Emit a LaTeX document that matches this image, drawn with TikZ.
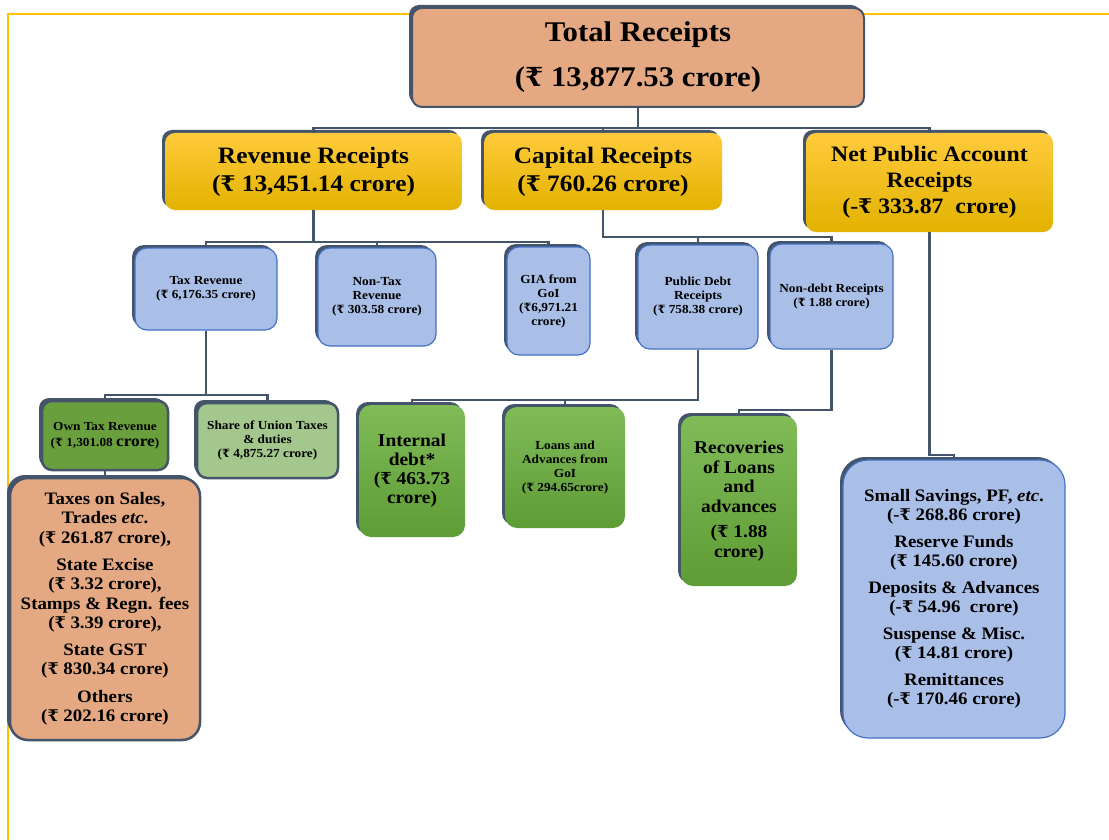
\documentclass[tikz,border=0pt]{standalone}
\usepackage{fontspec}
\setmainfont{Liberation Serif}[FakeStretch=1.08]
\newfontfamily\rupfont{DejaVu Serif}[Scale=0.92]
\newcommand{\rup}{{\rupfont\bfseries ₹}}
\usetikzlibrary{shadows}

\definecolor{linkgray}{HTML}{44546A}
\definecolor{salmon}{HTML}{E4A982}
\definecolor{goldtop}{HTML}{FFCB3C}
\definecolor{goldmid}{HTML}{FFC000}
\definecolor{goldbot}{HTML}{E2B200}
\definecolor{paleblue}{HTML}{AABFE7}
\definecolor{blueline}{HTML}{4472C4}
\definecolor{greentop}{HTML}{80BB58}
\definecolor{greenbot}{HTML}{5E9C35}
\definecolor{darkgreen}{HTML}{6A9F3D}
\definecolor{lightgreen}{HTML}{A3C78C}
\definecolor{framegold}{HTML}{FFC000}

\tikzset{
	box/.style={rounded corners=10pt, align=center, inner sep=0pt,
		general shadow={fill=linkgray, shadow xshift=-3pt, shadow yshift=3pt}},
	salmonbox/.style={box, fill=salmon, draw=linkgray, line width=2pt},
	goldbox/.style={box, top color=goldtop, middle color=goldmid, bottom color=goldbot},
	bluebox/.style={box, rounded corners=12pt, fill=paleblue, draw=blueline, line width=1.2pt},
	greenbox/.style={box, rounded corners=12pt, top color=greentop, bottom color=greenbot},
	edgebox/.style={box, rounded corners=10pt, draw=linkgray, line width=2.5pt},
	link/.style={draw=linkgray, line width=2.5pt},
	big/.style={font=\bfseries\fontsize{28.5}{45}\selectfont},
	head/.style={font=\bfseries\fontsize{23.5}{28}\selectfont},
	small/.style={font=\bfseries\fontsize{12.3}{14}\selectfont},
	mid/.style={font=\bfseries\fontsize{17.5}{19.5}\selectfont}
}

\begin{document}
\begin{tikzpicture}[x=1pt, y=-1pt]
	\useasboundingbox (0,0) rectangle (1109,840);
	\draw[framegold, line width=1.5pt] (8,840) -- (8,14) -- (1109,14);
	
	% top
	\node[salmonbox, big, minimum width=452pt, minimum height=99pt] (total) at (638,57.5) {Total Receipts\\(\rup\ 13,877.53 crore)};
	
	% second row
	\node[goldbox, head, minimum width=297pt, minimum height=77pt] (rev) at (313.5,171.5) {Revenue Receipts\\(\rup\ 13,451.14 crore)};
	\node[goldbox, head, minimum width=238pt, minimum height=77pt] (cap) at (603,171.5) {Capital Receipts\\(\rup\ 760.26 crore)};
	\node[goldbox, font=\bfseries\fontsize{22}{26}\selectfont, minimum width=247pt, minimum height=99pt] (npa) at (929.5,182.5) {Net Public Account\\Receipts\\(-\rup\ 333.87~ crore)};
	
	% third row
	\node[bluebox, small, minimum width=142pt, minimum height=82pt] (taxrev) at (206,289) {Tax Revenue\\(\rup\ 6,176.35 crore)};
	\node[bluebox, small, minimum width=118pt, minimum height=98pt] (nontax) at (377,297) {Non-Tax\\Revenue\\(\rup\ 303.58 crore)};
	\node[bluebox, small, minimum width=83pt, minimum height=108pt] (gia) at (548.5,301) {GIA from\\GoI\\(\rup6,971.21\\crore)};
	\node[bluebox, small, minimum width=120pt, minimum height=104pt] (pdebt) at (698,297) {Public Debt\\Receipts\\(\rup\ 758.38 crore)};
	\node[bluebox, small, minimum width=123pt, minimum height=105pt] (nondebt) at (831.5,296.5) {Non-debt Receipts\\(\rup\ 1.88 crore)};
	
	% fourth row
	\node[edgebox, fill=darkgreen, font=\bfseries\fontsize{12.3}{16}\selectfont, minimum width=126pt, minimum height=69pt] (owntax) at (105,435.5) {Own Tax Revenue\\(\rup\ 1,301.08 {\fontsize{16}{16}\selectfont crore})};
	\node[edgebox, fill=lightgreen, small, minimum width=141pt, minimum height=75pt] (share) at (267.5,440.5) {Share of Union Taxes\\\& duties\\(\rup\ 4,875.27 crore)};
	\node[greenbox, font=\bfseries\fontsize{18}{19}\selectfont, minimum width=106pt, minimum height=132pt] (intdebt) at (412,471) {Internal\\debt*\\(\rup\ 463.73\\crore)};
	\node[greenbox, small, minimum width=120pt, minimum height=121pt] (loans) at (565,467.5) {Loans and\\Advances from\\GoI\\(\rup\ 294.65crore)};
	\node[greenbox, font=\bfseries\fontsize{18}{19.5}\selectfont, minimum width=116pt, minimum height=170pt] (recov) at (739,501) {Recoveries\\of Loans\\and\\advances\\[6pt](\rup\ 1.88\\crore)};
	
	% bottom boxes
	\node[edgebox, rounded corners=18pt, fill=salmon, mid, minimum width=190pt, minimum height=262pt] (taxes) at (105,609) {Taxes on Sales,\\Trades \textit{etc}.\\(\rup\ 261.87 crore),\\[7.5pt]State Excise\\(\rup\ 3.32 crore),\\Stamps \& Regn. fees\\(\rup\ 3.39 crore),\\[7pt]State GST\\(\rup\ 830.34 crore)\\[8pt]Others\\(\rup\ 202.16 crore)};
	\node[bluebox, rounded corners=25pt, mid, minimum width=222pt, minimum height=278pt] (savings) at (954,599) {Small Savings, PF, \textit{etc}.\\(-\rup\ 268.86 crore)\\[7pt]Reserve Funds\\(\rup\ 145.60 crore)\\[7pt]Deposits \& Advances\\(-\rup\ 54.96~ crore)\\[7pt]Suspense \& Misc.\\(\rup\ 14.81 crore)\\[7pt]Remittances\\(-\rup\ 170.46 crore)};
	
	% connectors
	\coordinate (bus1) at (0,128);
	\coordinate (bus2) at (0,242);
	\coordinate (bus3) at (0,237);
	\coordinate (bus4) at (0,395);
	\coordinate (bus5) at (0,400);
	\coordinate (bus6) at (0,410);
	\coordinate (bus7) at (0,455);
	\draw[link] (total.south) -- (total.south |- bus1);
	\draw[link] (rev.north) -- (rev.north |- bus1) -| (npa.north);
	\draw[link] (cap.north) -- (cap.north |- bus1);
	\draw[link] (rev.south) -- (rev.south |- bus2);
	\draw[link] (taxrev.north) -- (taxrev.north |- bus2) -| (gia.north);
	\draw[link] (nontax.north) -- (nontax.north |- bus2);
	\draw[link] (cap.south) -- (cap.south |- bus3) -| (nondebt.north);
	\draw[link] (pdebt.north) -- (pdebt.north |- bus3);
	\draw[link] (taxrev.south) -- (taxrev.south |- bus4);
	\draw[link] (owntax.north) -- (owntax.north |- bus4) -| (share.north);
	\draw[link] (owntax.south) -- (owntax.south |- taxes.north);
	\draw[link] (intdebt.north) -- (intdebt.north |- bus5) -| (pdebt.south);
	\draw[link] (loans.north) -- (loans.north |- bus5);
	\draw[link] (recov.north) -- (recov.north |- bus6) -| (nondebt.south);
	\draw[link] (npa.south) -- (npa.south |- bus7) -| (savings.north);
\end{tikzpicture}
\end{document}
